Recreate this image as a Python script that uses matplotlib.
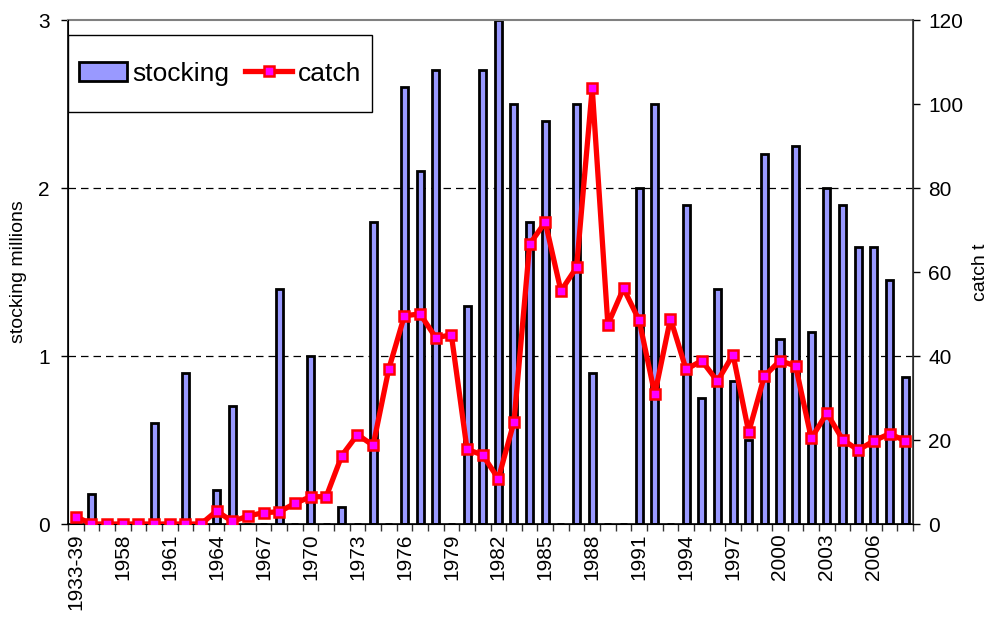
import matplotlib
matplotlib.use("Agg")
import matplotlib.pyplot as plt
import numpy as np
from matplotlib.patches import Patch, Rectangle
from matplotlib.lines import Line2D

plt.rcParams['font.family'] = ['Liberation Sans', 'DejaVu Sans']

categories = ["1933-39"] + [str(y) for y in range(1956, 2009)]
stocking = [0, 0.18, 0, 0, 0, 0.6, 0, 0.9, 0, 0.2,
            0.7, 0, 0, 1.4, 0, 1.0, 0, 0.1, 0, 1.8,
            0, 2.6, 2.1, 2.7, 0, 1.3, 2.7, 3.0, 2.5, 1.8,
            2.4, 0, 2.5, 0.9, 0, 0, 2.0, 2.5, 0, 1.9,
            0.75, 1.4, 0.85, 0.5, 2.2, 1.1, 2.25, 1.14, 2.0, 1.9,
            1.65, 1.65, 1.45, 0.875]
catch = [1.75, 0, 0, 0, 0, 0, 0, 0, 0, 3.1,
         0.6, 1.9, 2.7, 2.9, 4.9, 6.5, 6.5, 16.3, 21.3, 18.7,
         36.9, 49.6, 50.0, 44.4, 45.0, 17.8, 16.4, 10.8, 24.3, 66.6,
         71.9, 55.5, 61.1, 103.8, 47.5, 56.1, 48.5, 30.9, 48.9, 36.8,
         38.9, 34.0, 40.3, 21.9, 35.2, 38.9, 37.6, 20.4, 26.4, 20.1,
         17.6, 19.8, 21.5, 19.8]
left_ticks = [0, 1, 2, 3]
right_ticks = [0, 20, 40, 60, 80, 100, 120]

fig = plt.figure(figsize=(9.94, 6.19), dpi=100)
ax = fig.add_axes([68/994, 1-524/619, (913-68)/994, (524-20)/619])
x = np.arange(len(categories))

ax.bar(x, stocking, width=0.45, color='#9999FF', edgecolor='black', linewidth=2, zorder=2)
ax.set_xlim(-0.5, len(categories)-0.5)
ax.set_ylim(0, 3)
ax.set_yticks(left_ticks)
ax.set_yticklabels([str(t) for t in left_ticks], fontsize=15)
for g in [1, 2]:
    ax.axhline(g, color='black', linestyle=(0, (6, 4)), linewidth=0.9, zorder=1)

ax.set_xticks(x[::3])
ax.set_xticklabels(categories[::3], rotation=90, fontsize=15)
ax.set_xticks(np.arange(-0.5, len(categories), 1), minor=True)
ax.tick_params(axis='x', which='major', length=0, pad=7)
ax.tick_params(axis='x', which='minor', length=5, width=1, color='#333333')
ax.tick_params(axis='y', length=5, width=1, pad=8)
ax.set_ylabel("stocking millions", fontsize=14, labelpad=8)

ax.spines['top'].set_color('#808080')
ax.spines['top'].set_linewidth(1.5)
ax.spines['left'].set_linewidth(1.2)
ax.spines['bottom'].set_linewidth(1.2)

ax2 = ax.twinx()
ax2.plot(x, catch, color='#FF0000', linewidth=3.8, marker='s', markersize=7,
         markerfacecolor='#FF00FF', markeredgecolor='#FF0000', markeredgewidth=1.8, zorder=3)
ax2.set_ylim(0, 120)
ax2.set_yticks(right_ticks)
ax2.set_yticklabels([str(t) for t in right_ticks], fontsize=15)
ax2.tick_params(axis='y', length=5, width=1, pad=6)
ax2.set_ylabel("catch t", fontsize=14, labelpad=6)
ax2.spines['top'].set_visible(False)
ax2.spines['right'].set_linewidth(1.2)
ax2.spines['right'].set_color('#333333')

# legend box
box = (0.0, 0.817, 0.36, 0.153)
ax2.add_patch(Rectangle((box[0], box[1]), box[2], box[3], transform=ax2.transAxes,
                        facecolor='white', edgecolor='black', linewidth=1.0, zorder=4))
handles = [Patch(facecolor='#9999FF', edgecolor='black', linewidth=2),
           Line2D([0], [0], color='#FF0000', linewidth=3.8, marker='s', markersize=7,
                  markerfacecolor='#FF00FF', markeredgecolor='#FF0000', markeredgewidth=1.8)]
leg = ax2.legend(handles, ["stocking", "catch"], loc='center',
                 bbox_to_anchor=box,
                 ncol=2, fontsize=19, frameon=False,
                 handlelength=1.8, handleheight=0.75, handletextpad=0.2, columnspacing=0.6,
                 borderaxespad=0, borderpad=0.2)
leg.set_zorder(5)

fig.savefig("out.png", dpi=100)
